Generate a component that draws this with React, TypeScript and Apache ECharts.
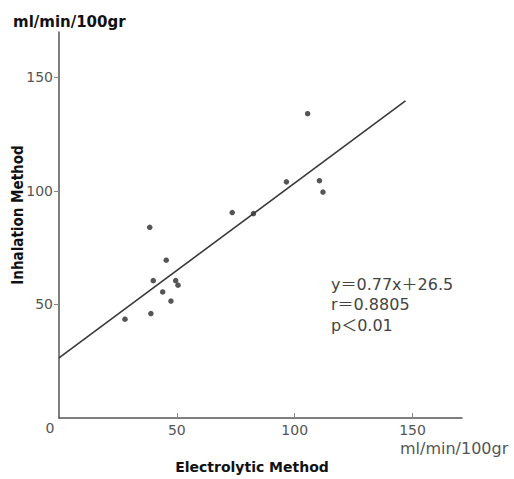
import React, { useEffect, useRef } from "react";
import * as echarts from "echarts";

const electrolytic = [28, 38.5, 39, 40, 45.5, 44, 47.5, 49.5, 50.5, 73.5, 82.5, 96.5, 105.5, 110.5, 112];
const inhalation = [43.5, 84, 46, 60.5, 69.5, 55.5, 51.5, 60.5, 58.5, 90.5, 90, 104, 134, 104.5, 99.5];
const fitX = [0, 147];
const fitY = [26.5, 139.7];
const xTicks = [50, 100, 150];
const yTicks = [50, 100, 150];
const statsLines = ["y＝0.77x＋26.5", "r＝0.8805", "p＜0.01"];

const FONT = "'DejaVu Sans', 'Noto Sans CJK JP', sans-serif";
const NARROW = "'Liberation Sans Narrow', 'DejaVu Sans Condensed', 'Liberation Sans', sans-serif";

export default function App() {
  const ref = useRef<HTMLDivElement>(null);
  useEffect(() => {
    document.body.style.margin = "0";
    if (!ref.current) return;
    const chart = echarts.init(ref.current, null, { renderer: "svg" });
    const axisColor = "#555";
    chart.setOption({
      animation: false,
      grid: { left: 59, top: 32, right: 52, bottom: 61 },
      xAxis: {
        type: "value",
        min: 0,
        max: 171,
        interval: 50,
        splitLine: { show: false },
        axisLine: { lineStyle: { color: axisColor, width: 1.5 } },
        axisTick: { show: true, inside: true, length: 5, customValues: xTicks, lineStyle: { color: "#888" } },
        axisLabel: { customValues: xTicks, color: "#555", fontSize: 14, fontFamily: FONT, margin: 5 },
      },
      yAxis: {
        type: "value",
        min: 0,
        max: 170,
        interval: 50,
        splitLine: { show: false },
        axisLine: { lineStyle: { color: axisColor, width: 1.5 } },
        axisTick: { show: true, length: 5, customValues: yTicks, lineStyle: { color: "#888" } },
        axisLabel: { customValues: yTicks, color: "#555", fontSize: 14, fontFamily: FONT, margin: 6 },
      },
      series: [
        {
          type: "line",
          data: fitX.map((x, i) => [x, fitY[i]]),
          symbol: "none",
          lineStyle: { color: "#3a3a3a", width: 1.6 },
          silent: true,
        },
        {
          type: "scatter",
          data: electrolytic.map((x, i) => [x, inhalation[i]]),
          symbol: "circle",
          symbolSize: 5.5,
          itemStyle: { color: "#2a2a2a" },
        },
      ],
      graphic: [
        { type: "text", x: 13, y: 22, style: { text: "ml/min/100gr", font: `bold 15px ${FONT}`, fill: "#111", verticalAlign: "middle" } },
        { type: "text", x: 50, y: 428, style: { text: "0", font: `14px ${FONT}`, fill: "#555", align: "center", verticalAlign: "middle" } },
        { type: "text", x: 400, y: 448, style: { text: "ml/min/100gr", font: `16px ${FONT}`, fill: "#555", verticalAlign: "middle" } },
        { type: "text", x: 252, y: 467, style: { text: "Electrolytic Method", font: `bold 14px ${FONT}`, fill: "#111", align: "center", verticalAlign: "middle" } },
        { type: "text", x: 18, y: 215, rotation: Math.PI / 2, style: { text: "Inhalation Method", font: `bold 15px ${NARROW}`, fill: "#111", align: "center", verticalAlign: "middle" } },
        ...statsLines.map((t, i) => ({
          type: "text",
          x: 331,
          y: 284 + i * 20.5,
          style: { text: t, font: `16px ${FONT}`, fill: "#444", verticalAlign: "middle" },
        })),
      ],
    });
    return () => chart.dispose();
  }, []);
  return <div ref={ref} style={{ width: 514, height: 479 }} />;
}
